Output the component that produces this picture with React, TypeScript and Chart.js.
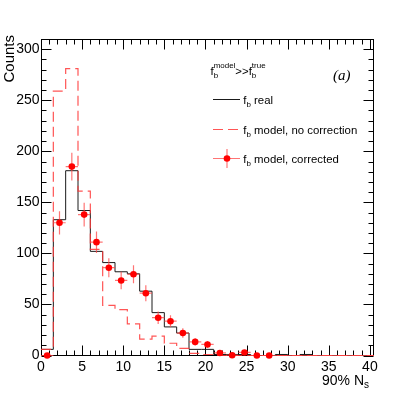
import React, { useEffect, useRef } from "react";
import { Chart, registerables } from "chart.js";
Chart.register(...registerables);

// ---- data ----
const binCenters = [0.75, 2.25, 3.75, 5.25, 6.75, 8.25, 9.75, 11.25, 12.75, 14.25, 15.75, 17.25, 18.75, 20.25, 21.75, 23.25, 24.75, 26.25, 27.75, 29.25, 30.75, 32.25, 33.75, 35.25, 36.75, 38.25, 39.75];
const binHalfWidth = 0.75;
const realCounts = [6, 133, 181, 142, 102, 91, 82, 80, 63, 42, 28, 22, 6, 6, 1, 1, 1, 0, 0, 1, 0, 1, 0, 0, 0, 0, 0];
const noCorrCounts = [6, 259, 281, 161, 104, 49, 45, 31, 16, 19, 12, 7, 2, 1, 0, 0, 0, 0, 0, 0, 0, 0, 0, 0, 0, 0, 0];
const correctedCounts = [0, 130, 185, 138, 111, 86, 73.5, 79.6, 61, 37, 33.6, 22, 13.3, 10.8, 2.5, 0.3, 3, 0, 0, 0, 0, 0, 0, 0, 0, 0, 0];
const correctedErrors = [0, 11.4, 13.6, 11.7, 10.5, 9.3, 8.6, 8.9, 7.8, 6.1, 5.8, 4.7, 3.6, 3.3, 1.6, 0.5, 1.7, 0, 0, 0, 0, 0, 0, 0, 0, 0, 0];
const lastMarkerBin = 18;
const xTickLabels = [0, 5, 10, 15, 20, 25, 30, 35, 40];
const yTickLabels = [0, 50, 100, 150, 200, 250, 300];
const xMinorStep = 1;
const yMinorStep = 10;
const X_MAX = 40.5;
const Y_MAX = 310;

const SANS = "'Liberation Sans', Arial, Helvetica, sans-serif";
const SERIF = "'Liberation Serif', 'Times New Roman', serif";

const BLACK = "#1a1a1a";
const RED_DASH = "rgba(255, 55, 55, 0.85)";
const RED_ERR = "rgba(255, 70, 70, 0.75)";
const RED_PT = "#ff0000";

function histSteps(counts: number[]) {
  const pts = counts.map((v, i) => ({ x: binCenters[i] - binHalfWidth, y: v }));
  const last = counts.length - 1;
  pts.push({ x: binCenters[last] + binHalfWidth, y: counts[last] });
  return pts;
}

type Seg = { t: string; mode?: "sub" | "sup" | "norm" };

function drawRich(ctx: CanvasRenderingContext2D, segs: Seg[], x: number, y: number, size: number) {
  let cx = x;
  const small = size * 0.7;
  let lastW = 0;
  for (let i = 0; i < segs.length; i++) {
    const s = segs[i];
    if (s.mode === "sub" || s.mode === "sup") {
      ctx.font = `${small}px ${SANS}`;
      const dy = s.mode === "sub" ? size * 0.28 : -size * 0.6;
      ctx.fillText(s.t, cx, y + dy);
      const w = ctx.measureText(s.t).width;
      // stacked sub/sup: if next is the other of sub/sup, don't advance
      const next = segs[i + 1];
      if (next && (next.mode === "sub" || next.mode === "sup") && next.mode !== s.mode) {
        lastW = w;
      } else {
        cx += Math.max(w, lastW);
        lastW = 0;
      }
    } else {
      ctx.font = `${size}px ${SANS}`;
      ctx.fillText(s.t, cx, y);
      cx += ctx.measureText(s.t).width;
    }
  }
}

const framePlugin = {
  id: "rootFrame",
  beforeDatasetsDraw(chart: any) {
    const { ctx, chartArea } = chart;
    const xs = chart.scales.x;
    const ys = chart.scales.y;
    const L = Math.round(chartArea.left) + 0.5;
    const R = Math.round(chartArea.right) - 0.5;
    const T = Math.round(chartArea.top) + 0.5;
    const B = Math.round(chartArea.bottom) - 0.5;
    ctx.save();
    ctx.strokeStyle = "#000";
    ctx.lineWidth = 1;
    ctx.strokeRect(L, T, R - L, B - T);
    ctx.beginPath();
    // x ticks (bottom & top, pointing inward)
    for (let v = 0; v <= X_MAX + 1e-9; v += xMinorStep) {
      const px = Math.round(xs.getPixelForValue(v)) + 0.5;
      const major = xTickLabels.includes(v);
      const len = major ? 10 : 5;
      ctx.moveTo(px, B);
      ctx.lineTo(px, B - len);
      ctx.moveTo(px, T);
      ctx.lineTo(px, T + len);
    }
    for (let v = 0; v <= Y_MAX + 1e-9; v += yMinorStep) {
      const py = Math.round(ys.getPixelForValue(v)) + 0.5;
      const major = yTickLabels.includes(v);
      const len = major ? 10 : 5;
      ctx.moveTo(L, py);
      ctx.lineTo(L + len, py);
      ctx.moveTo(R, py);
      ctx.lineTo(R - len, py);
    }
    ctx.stroke();

    // tick labels
    ctx.fillStyle = "#000";
    ctx.font = `14px ${SANS}`;
    ctx.textAlign = "center";
    ctx.textBaseline = "alphabetic";
    xTickLabels.forEach((v) => {
      ctx.fillText(String(v), xs.getPixelForValue(v), 371);
    });
    ctx.textAlign = "right";
    ctx.textBaseline = "middle";
    yTickLabels.forEach((v) => {
      ctx.fillText(String(v), 39.5, ys.getPixelForValue(v));
    });

    // axis titles
    ctx.textBaseline = "alphabetic";
    ctx.textAlign = "left";
    ctx.font = `14px ${SANS}`;
    const nW = ctx.measureText("90% N").width;
    ctx.font = `10px ${SANS}`;
    const sW = ctx.measureText("s").width;
    const xEnd = chartArea.right - 5;
    ctx.font = `14px ${SANS}`;
    ctx.fillText("90% N", xEnd - nW - sW, 384.5);
    ctx.font = `10px ${SANS}`;
    ctx.fillText("s", xEnd - sW, 387.5);

    ctx.save();
    ctx.translate(13.5, 35);
    ctx.rotate(-Math.PI / 2);
    ctx.font = `15px ${SANS}`;
    ctx.textAlign = "right";
    ctx.fillText("Counts", 0, 0);
    ctx.restore();
    ctx.restore();
  },
  afterDatasetsDraw(chart: any) {
    const { ctx } = chart;
    ctx.save();
    ctx.fillStyle = "#000";
    ctx.textAlign = "left";
    ctx.textBaseline = "alphabetic";
    // header
    drawRich(
      ctx,
      [
        { t: "f" },
        { t: "model", mode: "sup" },
        { t: "b", mode: "sub" },
        { t: ">>" },
        { t: "f" },
        { t: "true", mode: "sup" },
        { t: "b", mode: "sub" },
      ],
      210.5,
      75,
      11.4
    );
    ctx.font = `italic 15px ${SERIF}`;
    ctx.fillText("(a)", 333, 79.5);

    const x0 = 213;
    const x1 = 240;
    // row 1: solid black line
    ctx.strokeStyle = BLACK;
    ctx.lineWidth = 1;
    ctx.beginPath();
    ctx.moveTo(x0, 99.5);
    ctx.lineTo(x1, 99.5);
    ctx.stroke();
    // row 2: dashed red
    ctx.strokeStyle = RED_DASH;
    ctx.lineWidth = 1.2;
    ctx.setLineDash([10, 5]);
    ctx.beginPath();
    ctx.moveTo(x0, 129.5);
    ctx.lineTo(x1 + 1, 129.5);
    ctx.stroke();
    ctx.setLineDash([]);
    // row 3: marker with error bars
    ctx.strokeStyle = RED_ERR;
    ctx.lineWidth = 1.2;
    ctx.beginPath();
    ctx.moveTo(x0, 158.5);
    ctx.lineTo(x1, 158.5);
    ctx.moveTo(227, 149);
    ctx.lineTo(227, 168);
    ctx.stroke();
    ctx.fillStyle = RED_PT;
    ctx.beginPath();
    ctx.arc(227, 158.5, 3.3, 0, Math.PI * 2);
    ctx.fill();

    ctx.fillStyle = "#000";
    const tx = 243.3;
    drawRich(ctx, [{ t: "f" }, { t: "b", mode: "sub" }, { t: " real" }], tx, 103.5, 11.4);
    drawRich(ctx, [{ t: "f" }, { t: "b", mode: "sub" }, { t: " model, no correction" }], tx, 133.5, 11.4);
    drawRich(ctx, [{ t: "f" }, { t: "b", mode: "sub" }, { t: " model, corrected" }], tx, 163, 11.4);
    ctx.restore();
  },
};

export default function App() {
  const ref = useRef<HTMLCanvasElement | null>(null);
  useEffect(() => {
    if (!ref.current) return;
    const vErr: any[] = [];
    binCenters.forEach((c, i) => {
      if (correctedErrors[i] > 0) {
        vErr.push({ x: c, y: correctedCounts[i] - correctedErrors[i] });
        vErr.push({ x: c, y: correctedCounts[i] + correctedErrors[i] });
        vErr.push({ x: c, y: null });
      }
    });
    const hErr: any[] = [];
    binCenters.forEach((c, i) => {
      hErr.push({ x: c - binHalfWidth, y: correctedCounts[i] });
      hErr.push({ x: c + binHalfWidth, y: correctedCounts[i] });
      hErr.push({ x: c, y: null });
    });
    const chart = new Chart(ref.current, {
      type: "line",
      data: {
        datasets: [
          {
            label: "f_b model, corrected",
            data: binCenters.map((c, i) => ({ x: c, y: correctedCounts[i] })),
            showLine: false,
            pointRadius: (ctx: any) => (ctx.dataIndex <= lastMarkerBin ? 3.3 : 0),
            pointBackgroundColor: RED_PT,
            pointBorderWidth: 0,
            clip: false,
            order: 0,
          } as any,
          {
            label: "vErr",
            data: vErr,
            borderColor: RED_ERR,
            borderWidth: 1.2,
            pointRadius: 0,
            spanGaps: false,
            clip: false,
            order: 1,
          },
          {
            label: "hErr",
            data: hErr,
            borderColor: RED_ERR,
            borderWidth: 1.2,
            pointRadius: 0,
            spanGaps: false,
            clip: false,
            order: 1,
          },
          {
            label: "f_b model, no correction",
            data: histSteps(noCorrCounts),
            borderColor: RED_DASH,
            borderWidth: 1.2,
            borderDash: [10, 5],
            stepped: "before",
            pointRadius: 0,
            clip: false,
            order: 2,
          },
          {
            label: "f_b real",
            data: histSteps(realCounts),
            borderColor: BLACK,
            borderWidth: 1,
            stepped: "before",
            pointRadius: 0,
            clip: false,
            order: 3,
          },
        ],
      },
      options: {
        animation: false,
        responsive: false,
        devicePixelRatio: 1,
        layout: { padding: { left: 41, right: 41, top: 39, bottom: 40.5 } },
        plugins: { legend: { display: false }, tooltip: { enabled: false }, title: { display: false } },
        scales: {
          x: { type: "linear", min: 0, max: X_MAX, display: false },
          y: { type: "linear", min: 0, max: Y_MAX, display: false },
        },
      } as any,
      plugins: [framePlugin],
    });
    return () => chart.destroy();
  }, []);
  return (
    <div style={{ position: "fixed", left: 0, top: 0, width: 415, height: 396, background: "#fff" }}>
      <canvas ref={ref} width={415} height={396} style={{ display: "block" }} />
    </div>
  );
}
